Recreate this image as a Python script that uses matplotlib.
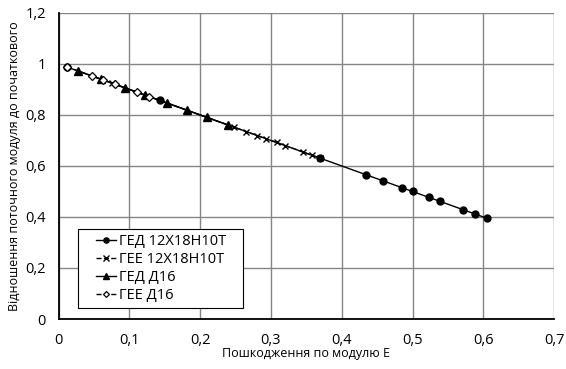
import matplotlib.pyplot as plt
from matplotlib.legend_handler import HandlerLine2D

plt.rcParams['font.family'] = ['Open Sans', 'DejaVu Sans']

# ГЕД 12Х18Н10Т
ged_steel_x = [0.012, 0.143, 0.369, 0.434, 0.459, 0.485, 0.500, 0.523, 0.539, 0.571, 0.588, 0.605]
ged_steel_y = [0.988, 0.857, 0.631, 0.566, 0.541, 0.515, 0.500, 0.477, 0.461, 0.429, 0.412, 0.395]
# ГЕЕ 12Х18Н10Т
gee_steel_x = [0.075, 0.248, 0.265, 0.281, 0.293, 0.308, 0.320, 0.346, 0.358, 0.369]
gee_steel_y = [0.925, 0.752, 0.735, 0.719, 0.707, 0.692, 0.680, 0.654, 0.642, 0.631]
# ГЕД Д16
ged_d16_x = [0.028, 0.060, 0.094, 0.122, 0.153, 0.181, 0.210, 0.240]
ged_d16_y = [0.972, 0.940, 0.906, 0.878, 0.847, 0.819, 0.790, 0.760]
# ГЕЕ Д16
gee_d16_x = [0.012, 0.047, 0.063, 0.080, 0.111, 0.128]
gee_d16_y = [0.988, 0.953, 0.937, 0.920, 0.889, 0.872]

x_ticks = [0, 0.1, 0.2, 0.3, 0.4, 0.5, 0.6, 0.7]
y_ticks = [0, 0.2, 0.4, 0.6, 0.8, 1.0, 1.2]
x_labels = ['0', '0,1', '0,2', '0,3', '0,4', '0,5', '0,6', '0,7']
y_labels = ['0', '0,2', '0,4', '0,6', '0,8', '1', '1,2']


class ShortHandler(HandlerLine2D):
    # draw the legend sample only in the right part of the handle box
    def create_artists(self, legend, orig_handle, xdescent, ydescent, width, height, fontsize, trans):
        off = width * 0.37
        return super().create_artists(legend, orig_handle, xdescent - off, ydescent,
                                      width - off, height, fontsize, trans)


fig = plt.figure(figsize=(5.66, 3.69), dpi=100)
ax = fig.add_axes([0.1034, 0.1355, 0.8756, 0.8295])

ax.plot(ged_steel_x, ged_steel_y, '-', color='black', lw=1.0, marker='o', ms=5,
        label='ГЕД 12Х18Н10Т', zorder=3)
ax.plot(gee_steel_x, gee_steel_y, '--', color='black', lw=1.0, marker='x', ms=5,
        mew=1.0, label='ГЕЕ 12Х18Н10Т', zorder=3)
ax.plot(ged_d16_x, ged_d16_y, '-', color='black', lw=1.0, marker='^', ms=6,
        label='ГЕД Д16', zorder=3)
ax.plot(gee_d16_x, gee_d16_y, '--', color='black', lw=1.0, marker='D', ms=4,
        mfc='white', mew=0.9, label='ГЕЕ Д16', zorder=4)

ax.set_xlim(0, 0.7)
ax.set_ylim(0, 1.2)
ax.set_xticks(x_ticks)
ax.set_xticklabels(x_labels)
ax.set_yticks(y_ticks)
ax.set_yticklabels(y_labels)
ax.tick_params(length=0, labelsize=10.5)
ax.tick_params(axis='x', pad=10)
ax.tick_params(axis='y', pad=9)
ax.grid(True, color='#858585', lw=1.0)
ax.set_axisbelow(True)

for s in ['top', 'right']:
    ax.spines[s].set_visible(False)
for s in ['left', 'bottom']:
    ax.spines[s].set_linewidth(1.3)
    ax.spines[s].set_color('black')

ax.set_xlabel('Пошкодження по модулю Е', fontsize=9, labelpad=-1)
ax.set_ylabel('Відношення поточного модуля до початкового', fontsize=9, labelpad=3)

leg = ax.legend(loc='lower left', bbox_to_anchor=(0.040, 0.035, 0.332, 0.27), mode='expand',
                borderaxespad=0, fontsize=10.5, handlelength=2.26, handletextpad=0.2,
                labelspacing=0.2, markerscale=0.75, fancybox=False, edgecolor='black',
                framealpha=1, borderpad=0.35, handler_map={plt.Line2D: ShortHandler()})
leg.get_frame().set_linewidth(0.8)

fig.savefig('out.png', dpi=100)
